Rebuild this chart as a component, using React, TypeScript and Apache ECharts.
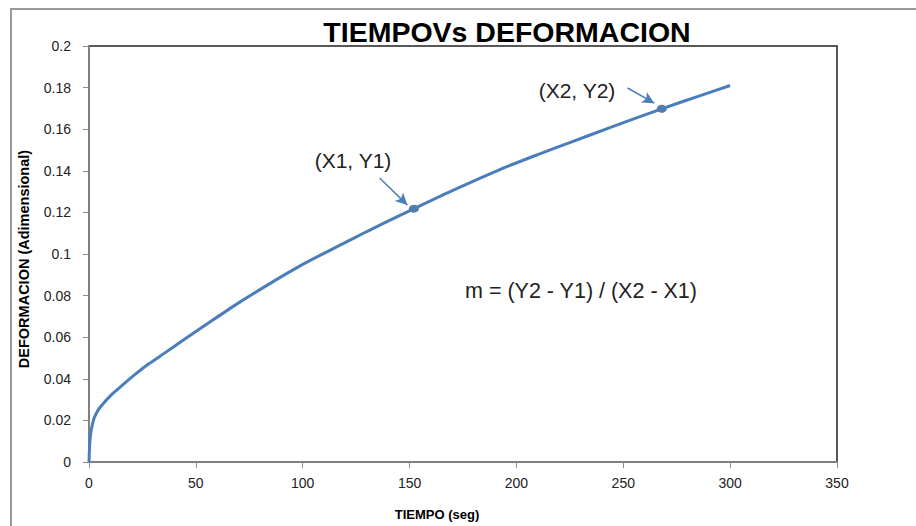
import React, { useEffect, useRef } from "react";
import * as echarts from "echarts";

const tiempo = [0, 0.25, 0.5, 1, 2, 3, 4.4, 7, 10, 13, 17, 22, 28, 35, 44, 55, 70, 85, 100, 117, 130, 145, 152, 170, 192, 210, 224, 245, 268, 285, 300];
const deformacion = [0, 0.007, 0.011, 0.015, 0.0198, 0.0225, 0.0252, 0.0285, 0.0318, 0.0346, 0.0382, 0.0425, 0.0472, 0.0521, 0.0585, 0.0662, 0.0765, 0.086, 0.095, 0.104, 0.1108, 0.1183, 0.1218, 0.1305, 0.1405, 0.1478, 0.1532, 0.1612, 0.1698, 0.1758, 0.181];
const puntos = [[152, 0.1218], [268, 0.1698]];
const flechas = [
  [[136, 0.1365], [149, 0.1235]],
  [[252, 0.1798], [264.5, 0.1725]],
];
const titulo = "TIEMPOVs DEFORMACION";
const ejeX = "TIEMPO (seg)";
const ejeY = "DEFORMACION (Adimensional)";

const FONT = "'Liberation Sans', Arial, sans-serif";

export default function App() {
  const ref = useRef<HTMLDivElement>(null);
  useEffect(() => {
    if (!ref.current) return;
    const chart = echarts.init(ref.current, null, { renderer: "svg" });
    chart.setOption({
      animation: false,
      backgroundColor: "#ffffff",
      grid: { left: 89, right: 79, top: 46, bottom: 64, show: true, borderColor: "#222", borderWidth: 1.5 },
      xAxis: {
        type: "value", min: 0, max: 350, interval: 50,
        axisLine: { lineStyle: { color: "#8c8c8c", width: 1.5 } },
        axisTick: { show: true, length: 6, lineStyle: { color: "#8c8c8c" } },
        axisLabel: { color: "#222", fontFamily: FONT, fontSize: 14, margin: 14 },
        splitLine: { show: false },
      },
      yAxis: {
        type: "value", min: 0, max: 0.2, interval: 0.02,
        axisLine: { show: true, lineStyle: { color: "#8c8c8c", width: 1.5 } },
        axisTick: { show: true, length: 6, lineStyle: { color: "#8c8c8c" } },
        axisLabel: { color: "#222", fontFamily: FONT, fontSize: 14, margin: 18, formatter: (v: number) => String(+v.toFixed(2)) },
        splitLine: { show: false },
      },
      series: [
        {
          type: "line",
          data: tiempo.map((t, i) => [t, deformacion[i]]),
          smooth: 0.25,
          showSymbol: false,
          lineStyle: { color: "#4a7ebb", width: 3 },
          markLine: {
            silent: true,
            symbol: ["none", "arrow"],
            symbolSize: [9, 12],
            label: { show: false },
            lineStyle: { color: "#4a7ebb", width: 1.5, type: "solid" },
            data: flechas.map(([a, b]) => [{ coord: a }, { coord: b }]),
          },
        },
        {
          type: "scatter",
          data: puntos,
          symbol: "circle",
          symbolSize: [10, 8],
          itemStyle: { color: "#2f5a8c" },
        },
      ],
      graphic: [
        { type: "rect", shape: { x: 11, y: 9, width: 1200, height: 1200 }, style: { fill: "none", stroke: "#9a9a9a", lineWidth: 2 }, z: -10 },
        { type: "text", x: 507, y: 32, style: { text: titulo, fontFamily: FONT, fontWeight: "bold", fontSize: 28.5, fill: "#000", textAlign: "center", textVerticalAlign: "middle" } },
        { type: "text", x: 437, y: 514, style: { text: ejeX, fontFamily: FONT, fontWeight: "bold", fontSize: 13, fill: "#000", textAlign: "center", textVerticalAlign: "middle" } },
        { type: "text", x: 24, y: 259, rotation: Math.PI / 2, style: { text: ejeY, fontFamily: FONT, fontWeight: "bold", fontSize: 14.5, fill: "#000", textAlign: "center", textVerticalAlign: "middle" } },
        { type: "text", x: 353, y: 160, style: { text: "(X1, Y1)", fontFamily: FONT, fontSize: 21, fill: "#222", textAlign: "center", textVerticalAlign: "middle" } },
        { type: "text", x: 577, y: 90, style: { text: "(X2, Y2)", fontFamily: FONT, fontSize: 21, fill: "#222", textAlign: "center", textVerticalAlign: "middle" } },
        { type: "text", x: 581, y: 291, style: { text: "m = (Y2 - Y1) / (X2 - X1)", fontFamily: FONT, fontSize: 21.5, fill: "#222", textAlign: "center", textVerticalAlign: "middle" } },
      ],
    });
    return () => chart.dispose();
  }, []);
  return <div ref={ref} style={{ position: "fixed", left: 0, top: 0, width: 916, height: 526 }} />;
}
